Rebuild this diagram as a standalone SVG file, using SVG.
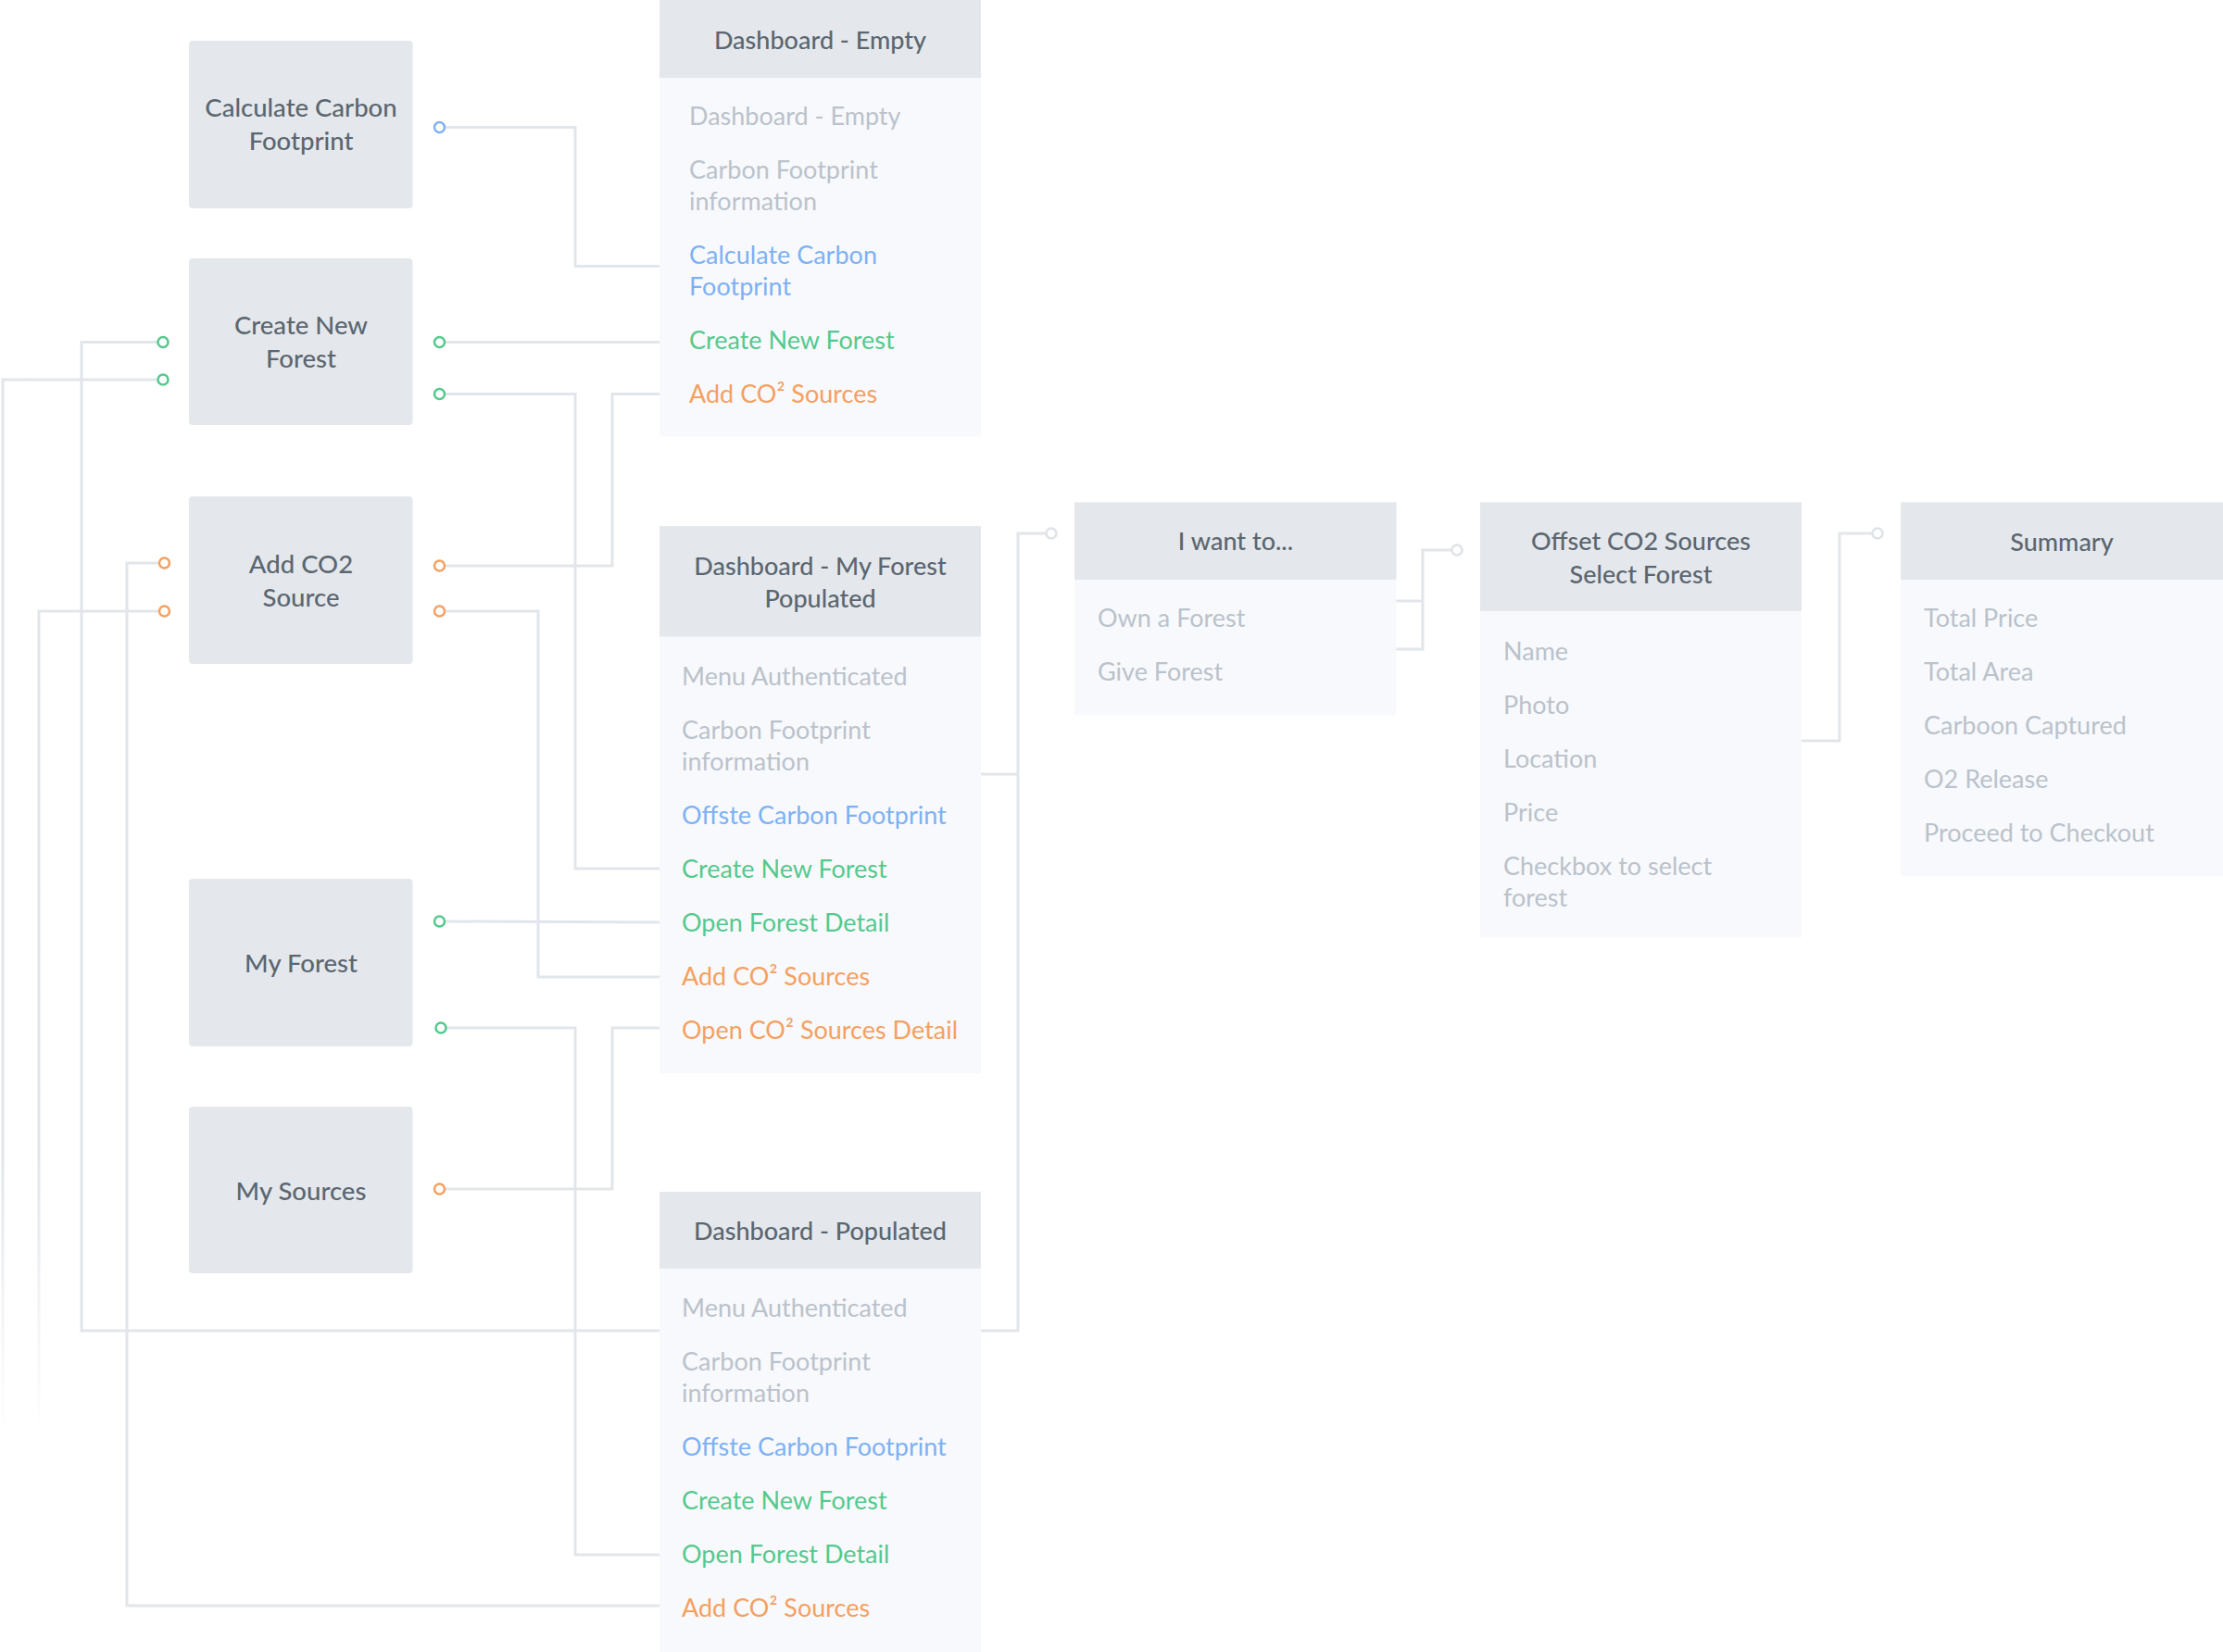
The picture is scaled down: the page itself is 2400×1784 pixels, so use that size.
<svg xmlns="http://www.w3.org/2000/svg" width="2400" height="1784" viewBox="0 0 2400 1784">
<style>
text{font-family:Lato,"Noto Sans","Liberation Sans",sans-serif;font-size:27px}
.box{fill:#e4e8ec}
.hdr{fill:#e4e8ec}
.body{fill:#f8f9fc}
.t{fill:#5b6670;font-weight:500;text-anchor:middle}
.bt{font-size:27.5px}
.g{fill:#bac2cb}
.bl{fill:#7db1f4}
.gr{fill:#55c98d}
.or{fill:#f5a060}
.ln{fill:none;stroke:#e2e6ea;stroke-width:3}
.cb{fill:#fff;stroke:#7db1f4;stroke-width:2.5}
.cg{fill:#fff;stroke:#55c98d;stroke-width:2.5}
.co{fill:#fff;stroke:#f5a060;stroke-width:2.5}
.cx{fill:#fff;stroke:#dfe3e7;stroke-width:2.5}
</style>
<defs>
<linearGradient id="fade" gradientUnits="userSpaceOnUse" x1="0" y1="1250" x2="0" y2="1550">
<stop offset="0" stop-color="#e2e6ea" stop-opacity="1"/>
<stop offset="1" stop-color="#e2e6ea" stop-opacity="0"/>
</linearGradient>
</defs>
<rect width="2400" height="1784" fill="#ffffff"/>
<g id="connectors">
<path class="ln" d="M481 137.5H621V287.5H712"/>
<path class="ln" d="M481 369.5H712"/>
<path class="ln" d="M481 425.5H621V938H712"/>
<path class="ln" d="M712 425.5H661V611H481"/>
<path class="ln" d="M481 660H581V1055H712"/>
<path class="ln" d="M481 995L712 996"/>
<path class="ln" d="M482 1110H621V1679H712"/>
<path class="ln" d="M481 1284H661V1110H712"/>
<path class="ln" d="M170 369.5H88V1437H1099V576H1129"/>
<path class="ln" d="M1059 836H1099"/>
<path fill="none" stroke="url(#fade)" stroke-width="3" d="M170 410H3V1550"/>
<path class="ln" d="M171 608H137V1734H712"/>
<path fill="none" stroke="url(#fade)" stroke-width="3" d="M171 660H42V1560"/>
<path class="ln" d="M1507 701H1536V594H1567"/>
<path class="ln" d="M1507 649H1536"/>
<path class="ln" d="M1945 800H1986V576H2021"/>
<circle class="cb" cx="474.5" cy="137.5" r="5.5"/>
<circle class="cg" cx="474.5" cy="369.5" r="5.5"/>
<circle class="cg" cx="474.5" cy="425.5" r="5.5"/>
<circle class="cg" cx="176" cy="369.5" r="5.5"/>
<circle class="cg" cx="176" cy="410" r="5.5"/>
<circle class="co" cx="474.5" cy="611" r="5.5"/>
<circle class="co" cx="474.5" cy="660" r="5.5"/>
<circle class="co" cx="177.5" cy="608" r="5.5"/>
<circle class="co" cx="177.5" cy="660" r="5.5"/>
<circle class="cg" cx="474.5" cy="995" r="5.5"/>
<circle class="cg" cx="476" cy="1110" r="5.5"/>
<circle class="co" cx="474.5" cy="1284" r="5.5"/>
<circle class="cx" cx="1135" cy="576" r="5.5"/>
<circle class="cx" cx="1573" cy="594" r="5.5"/>
<circle class="cx" cx="2027" cy="576" r="5.5"/>
</g>
<g id="calc-carbon">
<rect class="box" x="204" y="44" width="241.5" height="181" rx="4"/>
<text class="t bt" x="325" y="126">Calculate Carbon</text>
<text class="t bt" x="325" y="162">Footprint</text>
</g>
<g id="create-forest">
<rect class="box" x="204" y="279" width="241.5" height="180" rx="4"/>
<text class="t bt" x="325" y="360.5">Create New</text>
<text class="t bt" x="325" y="396.5">Forest</text>
</g>
<g id="add-co2">
<rect class="box" x="204" y="536" width="241.5" height="181" rx="4"/>
<text class="t bt" x="325" y="618.5">Add CO2</text>
<text class="t bt" x="325" y="654.5">Source</text>
</g>
<g id="my-forest">
<rect class="box" x="204" y="949" width="241.5" height="181" rx="4"/>
<text class="t bt" x="325" y="1049.5">My Forest</text>
</g>
<g id="my-sources">
<rect class="box" x="204" y="1195" width="241.5" height="180" rx="4"/>
<text class="t bt" x="325" y="1295.5">My Sources</text>
</g>
<g id="dash-empty">
<rect class="body" x="712" y="0" width="347" height="471.5"/>
<rect class="hdr" x="712" y="0" width="347" height="84"/>
<text class="t" x="885.5" y="53">Dashboard - Empty</text>
<text class="g" x="744" y="134.5">Dashboard - Empty</text>
<text class="g" x="744" y="192.5">Carbon Footprint</text>
<text class="g" x="744" y="226.5">information</text>
<text class="bl" x="744" y="284.5">Calculate Carbon</text>
<text class="bl" x="744" y="318.5">Footprint</text>
<text class="gr" x="744" y="376.5">Create New Forest</text>
<text class="or" x="744" y="434.5">Add CO² Sources</text>
</g>
<g id="dash-myforest">
<rect class="body" x="712" y="568" width="347" height="591"/>
<rect class="hdr" x="712" y="568" width="347" height="119.5"/>
<text class="t" x="885.5" y="621">Dashboard - My Forest</text>
<text class="t" x="885.5" y="656">Populated</text>
<text class="g" x="736" y="739.5">Menu Authenticated</text>
<text class="g" x="736" y="797.5">Carbon Footprint</text>
<text class="g" x="736" y="831.5">information</text>
<text class="bl" x="736" y="889.5">Offste Carbon Footprint</text>
<text class="gr" x="736" y="947.5">Create New Forest</text>
<text class="gr" x="736" y="1005.5">Open Forest Detail</text>
<text class="or" x="736" y="1063.5">Add CO² Sources</text>
<text class="or" x="736" y="1121.5">Open CO² Sources Detail</text>
</g>
<g id="dash-populated">
<rect class="body" x="712" y="1287" width="347" height="497"/>
<rect class="hdr" x="712" y="1287" width="347" height="83"/>
<text class="t" x="885.5" y="1339">Dashboard - Populated</text>
<text class="g" x="736" y="1421.5">Menu Authenticated</text>
<text class="g" x="736" y="1479.5">Carbon Footprint</text>
<text class="g" x="736" y="1513.5">information</text>
<text class="bl" x="736" y="1571.5">Offste Carbon Footprint</text>
<text class="gr" x="736" y="1629.5">Create New Forest</text>
<text class="gr" x="736" y="1687.5">Open Forest Detail</text>
<text class="or" x="736" y="1745.5">Add CO² Sources</text>
</g>
<g id="want-to">
<rect class="body" x="1160" y="542.5" width="347.5" height="230"/>
<rect class="hdr" x="1160" y="542.5" width="347.5" height="83.5"/>
<text class="t" x="1334" y="594">I want to...</text>
<text class="g" x="1185" y="676.5">Own a Forest</text>
<text class="g" x="1185" y="734.5">Give Forest</text>
</g>
<g id="offset-select">
<rect class="body" x="1598" y="542.5" width="347" height="470"/>
<rect class="hdr" x="1598" y="542.5" width="347" height="117.5"/>
<text class="t" x="1771.5" y="594">Offset CO2 Sources</text>
<text class="t" x="1771.5" y="630">Select Forest</text>
<text class="g" x="1623" y="712.5">Name</text>
<text class="g" x="1623" y="770.5">Photo</text>
<text class="g" x="1623" y="828.5">Location</text>
<text class="g" x="1623" y="886.5">Price</text>
<text class="g" x="1623" y="944.5">Checkbox to select</text>
<text class="g" x="1623" y="978.5">forest</text>
</g>
<g id="summary">
<rect class="body" x="2052" y="542.5" width="348" height="403.5"/>
<rect class="hdr" x="2052" y="542.5" width="348" height="83.5"/>
<text class="t" x="2226" y="595">Summary</text>
<text class="g" x="2077" y="676.5">Total Price</text>
<text class="g" x="2077" y="734.5">Total Area</text>
<text class="g" x="2077" y="792.5">Carboon Captured</text>
<text class="g" x="2077" y="850.5">O2 Release</text>
<text class="g" x="2077" y="908.5">Proceed to Checkout</text>
</g>
</svg>
